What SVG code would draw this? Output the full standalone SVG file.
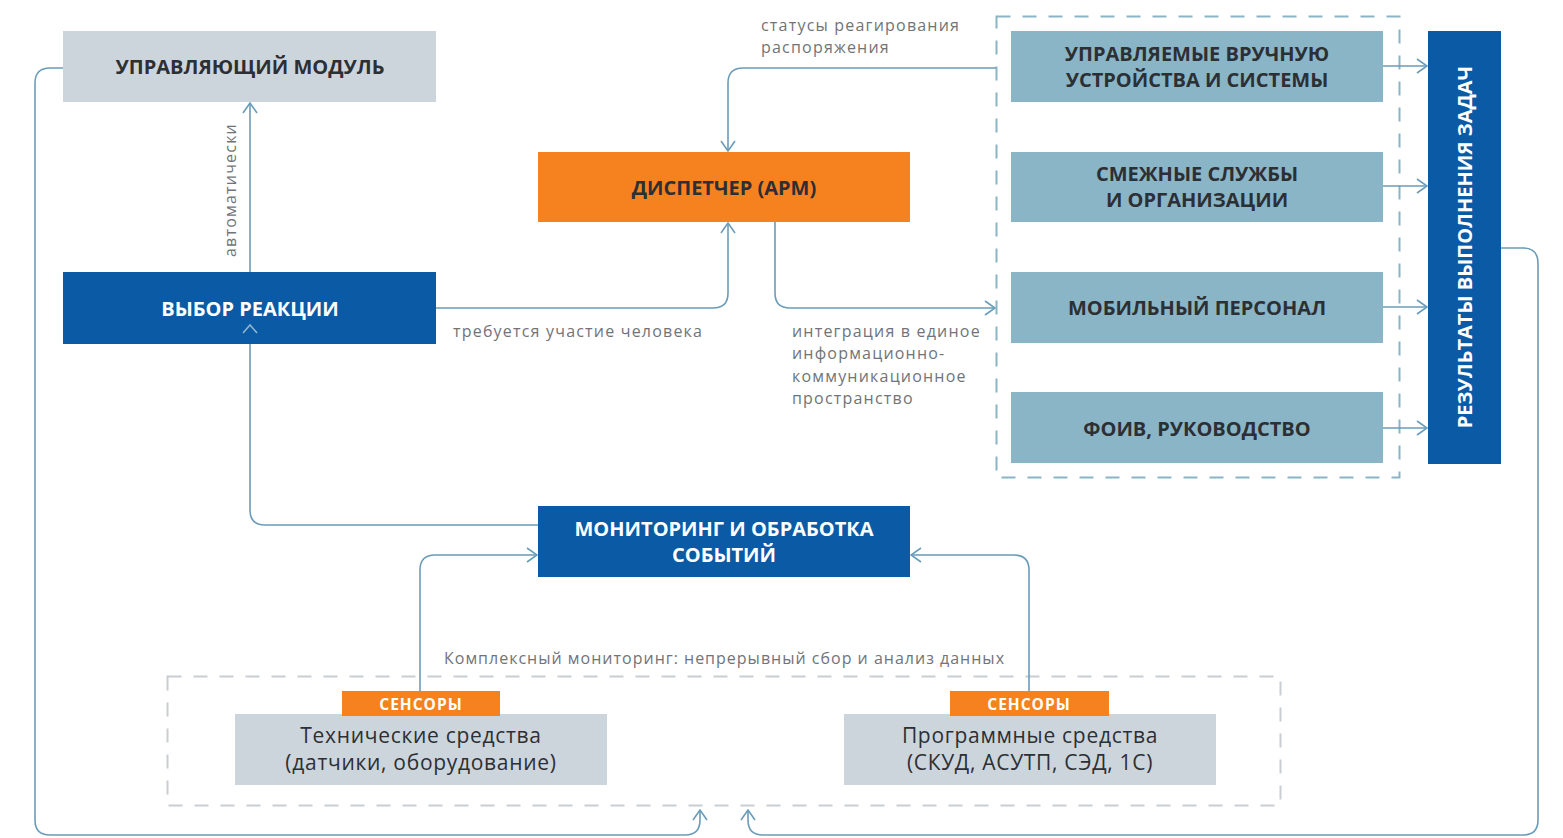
<svg xmlns="http://www.w3.org/2000/svg" width="1563" height="838" viewBox="0 0 1563 838">
<style>
.h{font-family:"Open Sans","Noto Sans",sans-serif;font-weight:700;font-size:20px;text-anchor:middle;dominant-baseline:central}
.dk{fill:#2c2f33}
.wh{fill:#ffffff}
.lbl{font-family:"Open Sans","Noto Sans",sans-serif;font-weight:400;font-size:16px;fill:#707478;letter-spacing:1.2px}
.reg{font-family:"Open Sans","Noto Sans",sans-serif;font-weight:400;font-size:21px;fill:#2c2f33;text-anchor:middle;letter-spacing:0.7px}
.sn{font-family:"Open Sans","Noto Sans",sans-serif;font-weight:700;font-size:15.5px;fill:#fff;text-anchor:middle;dominant-baseline:central;letter-spacing:1px}
.ln{fill:none;stroke:#6b9cb9;stroke-width:1.6}
.grey{fill:#cdd5dc}
.blue{fill:#0a5aa5}
.teal{fill:#8ab5c7}
.orange{fill:#f5821f}
</style>
<defs>
<marker id="ar" viewBox="0 0 12 16" refX="11" refY="8" markerWidth="12" markerHeight="16" markerUnits="userSpaceOnUse" orient="auto">
<polyline points="1,1 11,8 1,15" fill="none" stroke="#6b9cb9" stroke-width="1.6"/>
</marker>
</defs>
<rect width="1563" height="838" fill="#ffffff"/>

<!-- dashed containers -->
<rect x="996.5" y="16.5" width="403" height="461" fill="none" stroke="#8ab5c7" stroke-width="2" stroke-dasharray="14,12"/>
<rect x="167.5" y="676.5" width="1113" height="129" fill="none" stroke="#c8ced4" stroke-width="2" stroke-dasharray="14,12"/>

<g id="connectors">
<path class="ln" d="M63,68 H50 Q35,68 35,83 V820 Q35,835 50,835 H685 Q700,835 700,820 V810" marker-end="url(#ar)"/>
<path class="ln" d="M1501,248 H1523 Q1538,248 1538,263 V820 Q1538,835 1523,835 H763 Q748,835 748,820 V810" marker-end="url(#ar)"/>
<path class="ln" d="M250,272 V103" marker-end="url(#ar)"/>
<path class="ln" d="M436,308 H713 Q728,308 728,293 V223" marker-end="url(#ar)"/>
<path class="ln" d="M996,68 H743 Q728,68 728,83 V151" marker-end="url(#ar)"/>
<path class="ln" d="M775,222 V293 Q775,308 790,308 H995" marker-end="url(#ar)"/>
<path class="ln" d="M1383,66 H1427" marker-end="url(#ar)"/>
<path class="ln" d="M1383,186 H1427" marker-end="url(#ar)"/>
<path class="ln" d="M1383,307 H1427" marker-end="url(#ar)"/>
<path class="ln" d="M1383,428 H1427" marker-end="url(#ar)"/>
<path class="ln" d="M538,525 H265 Q250,525 250,510 V344"/>
<path class="ln" d="M420,691 V570 Q420,555 435,555 H537" marker-end="url(#ar)"/>
<path class="ln" d="M1029,691 V570 Q1029,555 1014,555 H911" marker-end="url(#ar)"/>
</g>

<g id="upr-modul">
<rect class="grey" x="63" y="31" width="373" height="71"/>
<text class="h dk" x="250" y="66">УПРАВЛЯЮЩИЙ МОДУЛЬ</text>
</g>
<g id="vybor">
<rect class="blue" x="63" y="272" width="373" height="72"/>
<text class="h wh" x="250" y="308">ВЫБОР РЕАКЦИИ</text>
<polyline points="243,333 250,325 257,333" fill="none" stroke="#8fb6cf" stroke-width="1.6"/>
</g>
<g id="dispetcher">
<rect class="orange" x="538" y="152" width="372" height="70"/>
<text class="h dk" x="724" y="187">ДИСПЕТЧЕР (АРМ)</text>
</g>
<g id="monitoring">
<rect class="blue" x="538" y="506" width="372" height="71"/>
<text class="h wh" x="724" y="528">МОНИТОРИНГ И ОБРАБОТКА</text>
<text class="h wh" x="724" y="554">СОБЫТИЙ</text>
</g>
<g id="upr-vruchnuyu">
<rect class="teal" x="1011" y="31" width="372" height="71"/>
<text class="h dk" x="1197" y="53">УПРАВЛЯЕМЫЕ ВРУЧНУЮ</text>
<text class="h dk" x="1197" y="79">УСТРОЙСТВА И СИСТЕМЫ</text>
</g>
<g id="smezhnye">
<rect class="teal" x="1011" y="152" width="372" height="70"/>
<text class="h dk" x="1197" y="173">СМЕЖНЫЕ СЛУЖБЫ</text>
<text class="h dk" x="1197" y="199">И ОРГАНИЗАЦИИ</text>
</g>
<g id="mobilny">
<rect class="teal" x="1011" y="272" width="372" height="71"/>
<text class="h dk" x="1197" y="307">МОБИЛЬНЫЙ ПЕРСОНАЛ</text>
</g>
<g id="foiv">
<rect class="teal" x="1011" y="392" width="372" height="71"/>
<text class="h dk" x="1197" y="428">ФОИВ, РУКОВОДСТВО</text>
</g>
<g id="rezultaty">
<rect class="blue" x="1428" y="31" width="73" height="433"/>
<text class="h wh" transform="translate(1464,247) rotate(-90)" x="0" y="0">РЕЗУЛЬТАТЫ ВЫПОЛНЕНИЯ ЗАДАЧ</text>
</g>
<g id="tekhnicheskie">
<rect class="grey" x="235" y="714" width="372" height="71"/>
<rect class="orange" x="342" y="691" width="158" height="25"/>
<text class="sn" x="421" y="704">СЕНСОРЫ</text>
<text class="reg" x="421" y="743">Технические средства</text>
<text class="reg" x="421" y="770">(датчики, оборудование)</text>
</g>
<g id="programmnye">
<rect class="grey" x="844" y="714" width="372" height="71"/>
<rect class="orange" x="950" y="691" width="159" height="25"/>
<text class="sn" x="1029" y="704">СЕНСОРЫ</text>
<text class="reg" x="1030" y="743">Программные средства</text>
<text class="reg" x="1030" y="770">(СКУД, АСУТП, СЭД, 1С)</text>
</g>

<g id="labels">
<text class="lbl" x="761" y="31">статусы реагирования</text>
<text class="lbl" x="761" y="53">распоряжения</text>
<text class="lbl" x="453" y="337">требуется участие человека</text>
<text class="lbl" x="792" y="337">интеграция в единое</text>
<text class="lbl" x="792" y="359">информационно-</text>
<text class="lbl" x="792" y="382">коммуникационное</text>
<text class="lbl" x="792" y="404">пространство</text>
<text class="lbl" transform="translate(236,190) rotate(-90)" text-anchor="middle" x="0" y="0">автоматически</text>
<text class="lbl" x="444" y="664" style="letter-spacing:1px">Комплексный мониторинг: непрерывный сбор и анализ данных</text>
</g>
</svg>
